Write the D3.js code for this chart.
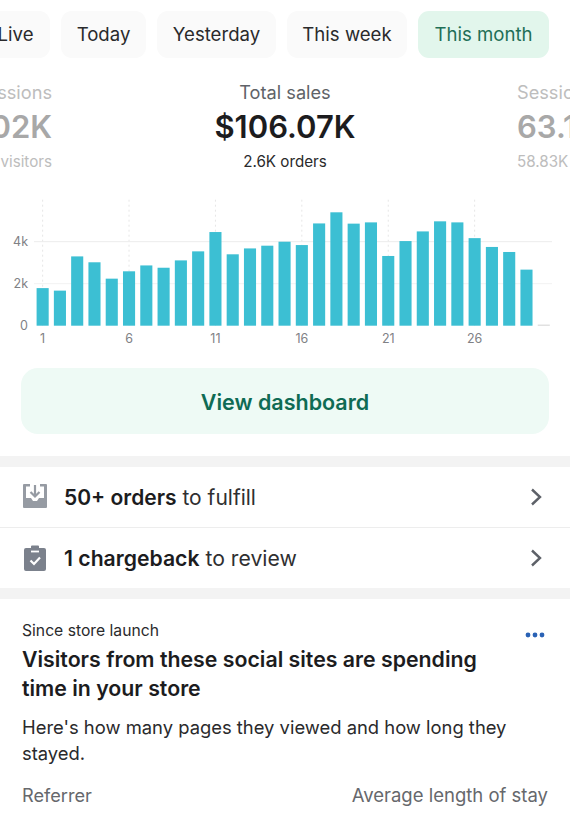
<!DOCTYPE html>
<html>
<head>
<meta charset="utf-8">
<script src="https://cdn.jsdelivr.net/npm/d3@7"></script>
<style>
  html, body { margin: 0; padding: 0; background: #fff; overflow: hidden; }
  svg { display: block; font-family: Inter, "Noto Sans", sans-serif; }
  .domain { display: none; }
</style>
</head>
<body>
<svg id="screen" width="570" height="823"></svg>
<script>
const days = d3.range(1, 31);
const sales = [1790, 1670, 3300, 3020, 2240, 2590, 2870, 2760, 3110, 3540,
  4460, 3400, 3680, 3810, 4000, 3840, 4870, 5400, 4860, 4920,
  3320, 4030, 4490, 4970, 4920, 4170, 3750, 3510, 2670, 50];
const yTicks = [0, 2000, 4000];
const yGrid = [2000, 4000];
const xTicks = [1, 6, 11, 16, 21, 26];
const yTickLabels = ['0', '2k', '4k'];

const tabNames = ['Live', 'Today', 'Yesterday', 'This week', 'This month'];
const tabLeft = [-30, 61, 157, 287, 418];
const tabRight = [50, 146, 276, 407, 549];

const svg = d3.select('#screen');

// tabs
const tab = svg.selectAll('g.tab')
  .data(tabNames)
  .enter()
  .append('g')
  .attr('class', 'tab');

tab.append('rect')
  .attr('x', (d, i) => tabLeft[i])
  .attr('y', 11)
  .attr('width', (d, i) => tabRight[i] - tabLeft[i])
  .attr('height', 47)
  .attr('rx', 11)
  .attr('fill', (d, i) => i === 4 ? '#e2f6ec' : '#fafafa');

tab.append('text')
  .attr('x', (d, i) => (tabLeft[i] + tabRight[i]) / 2 + (i === 0 ? 5.5 : 0))
  .attr('y', 41)
  .attr('text-anchor', 'middle')
  .attr('font-size', 18.6)
  .attr('fill', (d, i) => i === 4 ? '#1f6f57' : '#2a2a2c')
  .text((d) => d);

// helper for plain text
const label = (x, y, str, size, fill, anchor = 'start', weight = 400) =>
  svg.append('text')
    .attr('x', x).attr('y', y)
    .attr('font-size', size)
    .attr('font-weight', weight)
    .attr('fill', fill)
    .attr('text-anchor', anchor)
    .text(str);

// headline metrics
label(52, 99, 'Sessions', 18.2, '#bdbdbd', 'end');
label(52, 138, '63.02K', 31, '#a8a8a8', 'end', 600);
label(52, 167, '55.2K visitors', 15.2, '#bdbdbd', 'end');

label(285, 99, 'Total sales', 18.2, '#5f6368', 'middle');
label(285, 138, '$106.07K', 31, '#1c1c1e', 'middle', 600);
label(285, 167, '2.6K orders', 15.2, '#2a2a2c', 'middle');

label(517, 99, 'Sessions', 18.2, '#bdbdbd');
label(517, 138, '63.19K', 31, '#a8a8a8', 'start', 600);
label(517, 167, '58.83K visitors', 15.2, '#bdbdbd');

// chart
const x = d3.scaleBand()
  .domain(days)
  .range([34, 552.4])
  .paddingInner(0.3)
  .paddingOuter(0.15);

const y = d3.scaleLinear()
  .domain([0, 6000])
  .range([325.7, 199.7]);

const chart = svg.append('g');

chart.selectAll('line.vgrid')
  .data(xTicks)
  .enter()
  .append('line')
  .attr('class', 'vgrid')
  .attr('x1', (d) => x(d) + x.bandwidth() / 2)
  .attr('x2', (d) => x(d) + x.bandwidth() / 2)
  .attr('y1', y.range()[1])
  .attr('y2', y(0))
  .attr('stroke', '#e6e6e6')
  .attr('stroke-dasharray', '2 3');

chart.selectAll('line.hgrid')
  .data(yGrid)
  .enter()
  .append('line')
  .attr('class', 'hgrid')
  .attr('x1', 34)
  .attr('x2', 552)
  .attr('y1', (d) => y(d))
  .attr('y2', (d) => y(d))
  .attr('stroke', (d) => d === 4000 ? '#ececec' : '#f2f2f2');

chart.selectAll('rect.bar')
  .data(sales)
  .enter()
  .append('rect')
  .attr('class', 'bar')
  .attr('x', (d, i) => x(days[i]))
  .attr('y', (d) => y(d))
  .attr('width', x.bandwidth())
  .attr('height', (d) => y(0) - y(d))
  .attr('fill', (d, i) => i === 29 ? '#d4d4d4' : '#3cbfd3');

const yAxis = d3.axisLeft(y)
  .tickValues(yTicks)
  .tickSize(0)
  .tickPadding(0)
  .tickFormat((d, i) => yTickLabels[i]);

chart.append('g')
  .attr('transform', 'translate(28,0)')
  .call(yAxis)
  .call((g) => g.selectAll('text')
    .attr('font-family', 'Inter, sans-serif')
    .attr('font-size', 12.5)
    .attr('fill', '#808185'));

const xAxis = d3.axisBottom(x)
  .tickValues(xTicks)
  .tickSize(0)
  .tickPadding(8);

chart.append('g')
  .attr('transform', `translate(0,${y(0)})`)
  .call(xAxis)
  .call((g) => g.selectAll('text')
    .attr('font-family', 'Inter, sans-serif')
    .attr('font-size', 12.5)
    .attr('fill', '#808185'));

// dashboard button
svg.append('rect')
  .attr('x', 21).attr('y', 368)
  .attr('width', 528).attr('height', 66)
  .attr('rx', 17)
  .attr('fill', '#eefaf5');
label(285, 410, 'View dashboard', 21.5, '#0f6b54', 'middle', 600);

// section separators
[[456, 11], [588, 11]].forEach(([top, h]) => {
  svg.append('rect')
    .attr('x', 0).attr('y', top)
    .attr('width', 570).attr('height', h)
    .attr('fill', '#f3f3f3');
});
svg.append('line')
  .attr('x1', 0).attr('x2', 570)
  .attr('y1', 527.5).attr('y2', 527.5)
  .attr('stroke', '#ededed');

// inbox icon
const inbox = svg.append('g').attr('transform', 'translate(23,484)');
inbox.append('path')
  .attr('d', 'M1 0H7V2.5H3V14H8L10 17H14L16 14H21V2.5H17V0H23a1 1 0 0 1 1 1V23a1 1 0 0 1 -1 1H1a1 1 0 0 1 -1 -1V1a1 1 0 0 1 1 -1Z')
  .attr('fill', '#969ba3');
inbox.append('path')
  .attr('d', 'M12 1V11.5M7.5 8L12 12.5L16.5 8')
  .attr('fill', 'none')
  .attr('stroke', '#969ba3')
  .attr('stroke-width', 2.2);

// clipboard icon
const clip = svg.append('g').attr('transform', 'translate(24,545)');
clip.append('path')
  .attr('d', 'M2 3H7V1.5a1 1 0 0 1 1 -1H14a1 1 0 0 1 1 1V3H20a2 2 0 0 1 2 2V24a2 2 0 0 1 -2 2H2a2 2 0 0 1 -2 -2V5a2 2 0 0 1 2 -2Z')
  .attr('fill', '#7b818c');
clip.append('path')
  .attr('d', 'M7 6.5H15')
  .attr('stroke', '#fff')
  .attr('stroke-width', 1.8);
clip.append('path')
  .attr('d', 'M6.5 15.5L10 19L16 12.5')
  .attr('fill', 'none')
  .attr('stroke', '#fff')
  .attr('stroke-width', 2.2);

// task rows
const row1 = label(64, 505, '', 21, '#1c1c1e');
row1.append('tspan').attr('font-weight', 600).text('50+ orders');
row1.append('tspan').attr('fill', '#2f2f31').text(' to fulfill');

const row2 = label(64, 566, '', 21.2, '#1c1c1e');
row2.append('tspan').attr('font-weight', 600).text('1 chargeback');
row2.append('tspan').attr('fill', '#2f2f31').text(' to review');

[497, 558].forEach((cy) => {
  svg.append('path')
    .attr('d', `M532 ${cy - 7.5}L540 ${cy}L532 ${cy + 7.5}`)
    .attr('fill', 'none')
    .attr('stroke', '#5d6168')
    .attr('stroke-width', 2.4);
});

// insight card
label(22, 636, 'Since store launch', 15.7, '#2a2a2c');
label(22, 667, 'Visitors from these social sites are spending', 21.3, '#1c1c1e', 'start', 600);
label(22, 696, 'time in your store', 21.3, '#1c1c1e', 'start', 600);
label(22, 734, "Here's how many pages they viewed and how long they", 18.4, '#2a2a2c');
label(22, 760, 'stayed.', 18.4, '#2a2a2c');
label(22, 802, 'Referrer', 18.2, '#66686c');
label(548, 802, 'Average length of stay', 18.5, '#66686c', 'end');

[528, 535, 542].forEach((cx) => {
  svg.append('circle')
    .attr('cx', cx).attr('cy', 635)
    .attr('r', 2.4)
    .attr('fill', '#2a62b5');
});
</script>
</body>
</html>
